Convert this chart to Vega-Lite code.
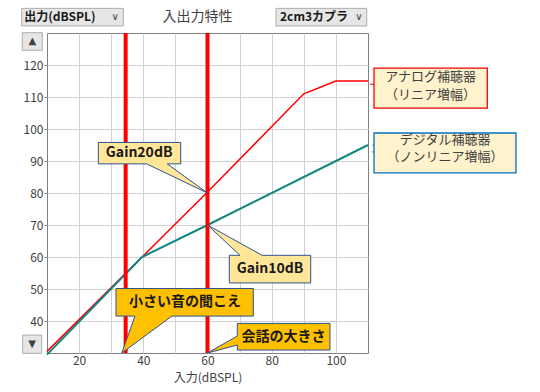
{
  "$schema": "https://vega.github.io/schema/vega-lite/v6.json",
  "width": 321,
  "height": 320,
  "autosize": {"type": "none"},
  "padding": {"left": 47, "top": 33, "right": 172, "bottom": 39},
  "background": "#ffffff",
  "config": {
    "view": {"stroke": "#808080", "strokeWidth": 1},
    "font": "Noto Sans CJK JP"
  },
  "datasets": {
    "curves": [
      {"s": "analog", "x": 10, "y": 30.5},
      {"s": "analog", "x": 60, "y": 80.3},
      {"s": "analog", "x": 90, "y": 111},
      {"s": "analog", "x": 100, "y": 115},
      {"s": "analog", "x": 110, "y": 115},
      {"s": "digital", "x": 10, "y": 29.5},
      {"s": "digital", "x": 39.6, "y": 60},
      {"s": "digital", "x": 60, "y": 70},
      {"s": "digital", "x": 110, "y": 95}
    ],
    "markers": [
      {"x": 34.5, "y": 30, "y2": 130},
      {"x": 60, "y": 30, "y2": 130}
    ],
    "callouts": [
      {"id": "g20", "kind": "light", "o": 1, "x": 26.0, "y": 95.8},
      {"id": "g20", "kind": "light", "o": 2, "x": 51.65, "y": 95.8},
      {"id": "g20", "kind": "light", "o": 3, "x": 51.65, "y": 89.1},
      {"id": "g20", "kind": "light", "o": 4, "x": 47.48, "y": 89.1},
      {"id": "g20", "kind": "light", "o": 5, "x": 60, "y": 80},
      {"id": "g20", "kind": "light", "o": 6, "x": 41.06, "y": 89.1},
      {"id": "g20", "kind": "light", "o": 7, "x": 26.0, "y": 89.1},
      {"id": "g20", "kind": "light", "o": 8, "x": 26.0, "y": 95.8},
      {"id": "g10", "kind": "light", "o": 1, "x": 66.79, "y": 60.53},
      {"id": "g10", "kind": "light", "o": 2, "x": 70.1, "y": 60.53},
      {"id": "g10", "kind": "light", "o": 3, "x": 60, "y": 70},
      {"id": "g10", "kind": "light", "o": 4, "x": 77.0, "y": 60.53},
      {"id": "g10", "kind": "light", "o": 5, "x": 92.15, "y": 60.53},
      {"id": "g10", "kind": "light", "o": 6, "x": 92.15, "y": 51.9},
      {"id": "g10", "kind": "light", "o": 7, "x": 66.79, "y": 51.9},
      {"id": "g10", "kind": "light", "o": 8, "x": 66.79, "y": 60.53},
      {"id": "small", "kind": "orange", "o": 1, "x": 31.5, "y": 50.16},
      {"id": "small", "kind": "orange", "o": 2, "x": 74.27, "y": 50.16},
      {"id": "small", "kind": "orange", "o": 3, "x": 74.27, "y": 41.53},
      {"id": "small", "kind": "orange", "o": 4, "x": 48.9, "y": 41.53},
      {"id": "small", "kind": "orange", "o": 5, "x": 33.3, "y": 30},
      {"id": "small", "kind": "orange", "o": 6, "x": 37.4, "y": 41.53},
      {"id": "small", "kind": "orange", "o": 7, "x": 31.5, "y": 41.53},
      {"id": "small", "kind": "orange", "o": 8, "x": 31.5, "y": 50.16},
      {"id": "talk", "kind": "orange", "o": 1, "x": 69.28, "y": 39.25},
      {"id": "talk", "kind": "orange", "o": 2, "x": 98.16, "y": 39.25},
      {"id": "talk", "kind": "orange", "o": 3, "x": 98.16, "y": 30.93},
      {"id": "talk", "kind": "orange", "o": 4, "x": 69.28, "y": 30.93},
      {"id": "talk", "kind": "orange", "o": 5, "x": 69.28, "y": 32.5},
      {"id": "talk", "kind": "orange", "o": 6, "x": 60, "y": 30},
      {"id": "talk", "kind": "orange", "o": 7, "x": 69.28, "y": 35.3},
      {"id": "talk", "kind": "orange", "o": 8, "x": 69.28, "y": 39.25}
    ],
    "calloutText": [
      {"x": 38.7, "y": 92.4, "t": "Gain20dB"},
      {"x": 79.5, "y": 56.2, "t": "Gain10dB"},
      {"x": 53.0, "y": 45.9, "t": "小さい音の聞こえ"},
      {"x": 83.7, "y": 35.1, "t": "会話の大きさ"}
    ],
    "sideBoxes": [
      {"kind": "analog", "x": 111.87, "x2": 147.17, "y": 119.0, "y2": 106.5},
      {"kind": "digital", "x": 111.87, "x2": 156.1, "y": 98.75, "y2": 86.3}
    ],
    "sideText": [
      {"x": 129.5, "y": 115.6, "t": "アナログ補聴器\n（リニア増幅）"},
      {"x": 134.0, "y": 96.0, "t": "デジタル補聴器\n（ノンリニア増幅）"}
    ],
    "leader": [
      {"x": 110.6, "x2": 111.9, "y": 114}
    ],
    "stray": [
      {"x": 111.1, "y": 93.9, "t": "3"}
    ],
    "heading": [
      {"x": 56.9, "y": 134.98, "t": "入出力特性"}
    ],
    "controls": [
      {"x": 2.12, "x2": 33.77, "y": 137.7, "y2": 132.2},
      {"x": 81.34, "x2": 109.6, "y": 137.7, "y2": 132.2},
      {"x": 2.31, "x2": 8.54, "y": 130.1, "y2": 124.6},
      {"x": 2.43, "x2": 8.35, "y": 35.6, "y2": 29.9}
    ],
    "controlText": [
      {"x": 2.93, "y": 134.98, "t": "出力(dBSPL)"},
      {"x": 82.59, "y": 134.98, "t": "2cm3カプラ"}
    ],
    "controlGlyphs": [
      {"x": 31.2, "y": 134.98, "t": "∨"},
      {"x": 107.2, "y": 134.98, "t": "∨"},
      {"x": 5.42, "y": 127.35, "t": "▲"},
      {"x": 5.39, "y": 32.75, "t": "▼"}
    ]
  },
  "encoding": {
    "x": {
      "field": "x",
      "type": "quantitative",
      "scale": {"domain": [10, 110], "nice": false, "zero": false},
      "axis": {
        "title": "入力(dBSPL)",
        "values": [20, 30, 40, 50, 60, 70, 80, 90, 100],
        "labelExpr": "datum.value % 20 == 0 ? datum.label : ''",
        "grid": true,
        "gridColor": "#d0d0d0",
        "ticks": false,
        "domain": false,
        "labelFont": "Noto Sans CJK JP",
        "labelFontSize": 12,
        "labelColor": "#404040",
        "labelPadding": 2,
        "titleFont": "Noto Sans CJK JP",
        "titleFontSize": 12,
        "titleFontWeight": "normal",
        "titleColor": "#404040",
        "titlePadding": 6
      }
    },
    "y": {
      "field": "y",
      "type": "quantitative",
      "scale": {"domain": [30, 130], "nice": false, "zero": false},
      "axis": {
        "title": null,
        "values": [40, 50, 60, 70, 80, 90, 100, 110, 120],
        "grid": true,
        "gridColor": "#d0d0d0",
        "tickSize": 3,
        "tickColor": "#808080",
        "domain": false,
        "labelFont": "Noto Sans CJK JP",
        "labelFontSize": 12,
        "labelColor": "#404040",
        "labelPadding": 1
      }
    }
  },
  "layer": [
    {
      "data": {"name": "curves"},
      "transform": [{"filter": "datum.s == 'analog'"}],
      "mark": {"type": "line", "color": "#ff0000", "strokeWidth": 1.5},
      "encoding": {}
    },
    {
      "data": {"name": "curves"},
      "transform": [{"filter": "datum.s == 'digital'"}],
      "mark": {"type": "line", "color": "#108585", "strokeWidth": 2},
      "encoding": {}
    },
    {
      "data": {"name": "markers"},
      "mark": {"type": "rule", "color": "#ff0000", "strokeWidth": 4},
      "encoding": {"y2": {"field": "y2"}}
    },
    {
      "data": {"name": "callouts"},
      "transform": [{"filter": "datum.kind == 'light'"}],
      "mark": {"type": "line", "fill": "#FFE699", "stroke": "#2F528F", "strokeWidth": 1, "clip": false},
      "encoding": {
        "detail": {"field": "id"},
        "order": {"field": "o", "type": "quantitative"}
      }
    },
    {
      "data": {"name": "callouts"},
      "transform": [{"filter": "datum.kind == 'orange'"}],
      "mark": {"type": "line", "fill": "#FFC000", "stroke": "#2F528F", "strokeWidth": 1, "clip": false},
      "encoding": {
        "detail": {"field": "id"},
        "order": {"field": "o", "type": "quantitative"}
      }
    },
    {
      "data": {"name": "calloutText"},
      "mark": {"type": "text", "font": "Noto Sans CJK JP", "fontSize": 14, "fontWeight": "bold", "color": "#1a1a1a", "align": "center", "baseline": "middle"},
      "encoding": {"text": {"field": "t"}}
    },
    {
      "data": {"name": "leader"},
      "mark": {"type": "rule", "color": "#ff0000", "strokeWidth": 1},
      "encoding": {"x2": {"field": "x2"}}
    },
    {
      "data": {"name": "stray"},
      "mark": {"type": "text", "font": "Noto Sans CJK JP", "fontSize": 12, "color": "#108585", "align": "left", "baseline": "middle"},
      "encoding": {"text": {"field": "t"}}
    },
    {
      "data": {"name": "sideBoxes"},
      "mark": {"type": "rect", "fill": "#FFF2CC", "strokeWidth": 1.3},
      "encoding": {
        "x2": {"field": "x2"},
        "y2": {"field": "y2"},
        "stroke": {"field": "kind", "type": "nominal", "scale": {"domain": ["analog", "digital"], "range": ["#ff0000", "#0070C0"]}, "legend": null}
      }
    },
    {
      "data": {"name": "sideText"},
      "mark": {"type": "text", "font": "Noto Sans CJK JP", "fontSize": 13, "color": "#404040", "align": "center", "baseline": "top", "lineBreak": "\n", "lineHeight": 17.5, "dy": -8},
      "encoding": {"text": {"field": "t"}}
    },
    {
      "data": {"name": "heading"},
      "mark": {"type": "text", "font": "Noto Sans CJK JP", "fontSize": 14, "color": "#404040", "align": "center", "baseline": "middle"},
      "encoding": {"text": {"field": "t"}}
    },
    {
      "data": {"name": "controls"},
      "mark": {"type": "rect", "fill": "#e6e6e6", "stroke": "#adadad", "strokeWidth": 1},
      "encoding": {"x2": {"field": "x2"}, "y2": {"field": "y2"}}
    },
    {
      "data": {"name": "controlText"},
      "mark": {"type": "text", "font": "Noto Sans CJK JP", "fontSize": 12, "fontWeight": "bold", "color": "#1a1a1a", "align": "left", "baseline": "middle"},
      "encoding": {"text": {"field": "t"}}
    },
    {
      "data": {"name": "controlGlyphs"},
      "mark": {"type": "text", "font": "DejaVu Sans", "fontSize": 10, "color": "#404040", "align": "center", "baseline": "middle"},
      "encoding": {"text": {"field": "t"}}
    }
  ]
}
